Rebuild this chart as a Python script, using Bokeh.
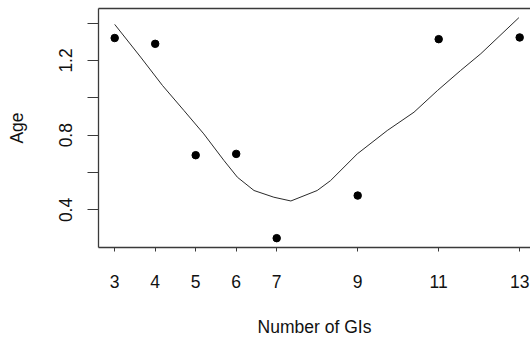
from bokeh.plotting import figure
from bokeh.models import Range1d, FixedTicker, LinearAxis
from bokeh.embed import file_html
from bokeh.resources import INLINE

# Observations: number of GIs vs age
n_gis = [3, 4, 5, 6, 7, 9, 11, 13]
age = [1.320, 1.289, 0.693, 0.700, 0.249, 0.477, 1.314, 1.323]

# Smoothed trend curve
smooth_x = [3.00, 3.64, 4.18, 4.71, 5.20, 5.70, 6.03, 6.44, 6.93, 7.35,
            8.00, 8.33, 8.99, 9.73, 10.39, 10.97, 11.54, 12.04, 12.98]
smooth_y = [1.393, 1.218, 1.066, 0.932, 0.807, 0.664, 0.575, 0.504, 0.468, 0.448,
            0.504, 0.557, 0.700, 0.825, 0.923, 1.039, 1.146, 1.236, 1.429]

x_ticks = [3, 4, 5, 6, 7, 9, 11, 13]
y_ticks = [0.4, 0.6, 0.8, 1.0, 1.2, 1.4]
y_tick_labels = {0.4: "0.4", 0.6: "", 0.8: "0.8", 1.0: "", 1.2: "1.2", 1.4: ""}

FONT = "Liberation Sans"
SIZE = "17.5px"
INK = "#111111"
FRAME = "#3a3a3a"

p = figure(width=530, height=341, output_backend="svg", toolbar_location=None,
           x_range=Range1d(2.6, 13.267), y_range=Range1d(0.199, 1.478),
           min_border_left=98, min_border_right=0, min_border_top=0,
           min_border_bottom=94, background_fill_color="white",
           border_fill_color="white", outline_line_color=None)
p.grid.visible = False

# x axis
xa = p.xaxis[0]
xa.ticker = FixedTicker(ticks=x_ticks, minor_ticks=[])
xa.axis_line_color = FRAME
xa.axis_line_width = 1.3
xa.major_tick_out = 4
xa.major_tick_in = 0
xa.major_tick_line_color = FRAME
xa.major_label_text_font = FONT
xa.major_label_text_font_size = SIZE
xa.major_label_text_color = INK
xa.major_label_standoff = 23
xa.axis_label = "Number of GIs"
xa.axis_label_text_font = FONT
xa.axis_label_text_font_size = SIZE
xa.axis_label_text_font_style = "normal"
xa.axis_label_text_color = INK
xa.axis_label_standoff = 26

# y axis
ya = p.yaxis[0]
ya.ticker = FixedTicker(ticks=y_ticks, minor_ticks=[])
ya.major_label_overrides = y_tick_labels
ya.axis_line_color = FRAME
ya.axis_line_width = 1.3
ya.major_tick_out = 11
ya.major_tick_in = 0
ya.major_tick_line_color = FRAME
ya.major_label_orientation = "vertical"
ya.major_label_text_font = FONT
ya.major_label_text_font_size = SIZE
ya.major_label_text_color = INK
ya.major_label_standoff = 15
ya.axis_label = "Age"
ya.axis_label_text_font = FONT
ya.axis_label_text_font_size = SIZE
ya.axis_label_text_font_style = "normal"
ya.axis_label_text_color = INK
ya.axis_label_standoff = 30

# top edge of the plot box
top = LinearAxis(ticker=FixedTicker(ticks=[]), axis_line_color=FRAME,
                 axis_line_width=1.3, major_label_text_font_size="0px")
p.add_layout(top, "above")
p.min_border_top = 8

p.line(smooth_x, smooth_y, line_color="#2a2a2a", line_width=1)
p.scatter(n_gis, age, size=7.5, fill_color="black", line_color="black")

open("out.html", "w").write(file_html(p, INLINE))
